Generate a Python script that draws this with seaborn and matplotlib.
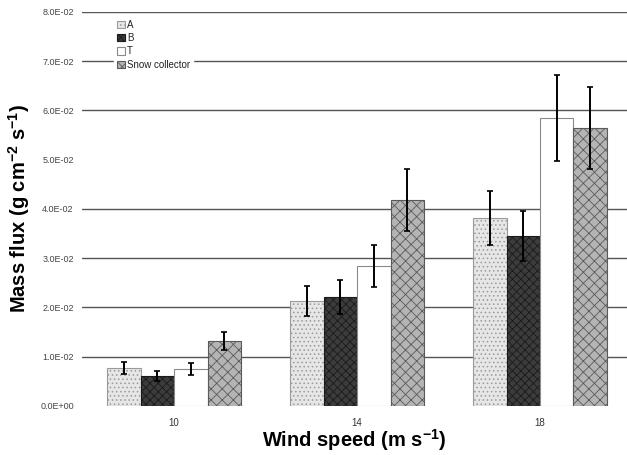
import matplotlib
matplotlib.use("Agg")
import matplotlib.pyplot as plt
import seaborn as sns
import pandas as pd

# data
wind_speeds = ["10", "14", "18"]
sensors = ["A", "B", "T", "Snow collector"]
flux_A = [0.0077, 0.0213, 0.0382]
flux_B = [0.0061, 0.0221, 0.0345]
flux_T = [0.0075, 0.0284, 0.0585]
flux_SC = [0.0132, 0.0418, 0.0564]
err_A = [0.0013, 0.0031, 0.0055]
err_B = [0.0010, 0.0035, 0.0051]
err_T = [0.0012, 0.0043, 0.0087]
err_SC = [0.0018, 0.0063, 0.0084]
grid_levels = [0.01, 0.02, 0.03, 0.04, 0.06, 0.07, 0.08]
y_ticks = [0.0, 0.01, 0.02, 0.03, 0.04, 0.05, 0.06, 0.07, 0.08]

flux = {"A": flux_A, "B": flux_B, "T": flux_T, "Snow collector": flux_SC}
errs = {"A": err_A, "B": err_B, "T": err_T, "Snow collector": err_SC}

rows = []
for s in sensors:
    for w, v in zip(wind_speeds, flux[s]):
        rows.append({"wind": w, "sensor": s, "flux": v})
df = pd.DataFrame(rows)

# bar styles
styles = {
    "A": dict(fc="#e6e6e6", ec="#9a9a9a", hatch="...."),
    "B": dict(fc="#3c3c3c", ec="#1a1a1a", hatch="xxxx"),
    "T": dict(fc="white", ec="#8a8a8a", hatch=""),
    "Snow collector": dict(fc="#b4b4b4", ec="#5a5a5a", hatch="xxx"),
}

sns.set_style("white")
plt.rcParams["font.family"] = ["Liberation Sans", "DejaVu Sans"]
plt.rcParams["mathtext.fontset"] = "custom"
plt.rcParams["mathtext.rm"] = "Liberation Sans"
plt.rcParams["mathtext.bf"] = "Liberation Sans:bold"
plt.rcParams["hatch.linewidth"] = 0.6

fig = plt.figure(figsize=(6.27, 4.55), dpi=100)
ax = fig.add_axes([0.131, 0.108, 0.869, 0.866])

for y in grid_levels:
    ax.axhline(y, color="#555555", lw=1.0, zorder=0)

sns.barplot(data=df, x="wind", y="flux", hue="sensor", order=wind_speeds,
            hue_order=sensors, palette={s: styles[s]["fc"] for s in sensors},
            width=0.73, saturation=1, errorbar=None, legend=False, ax=ax, zorder=2)

for s, cont in zip(sensors, ax.containers):
    st = styles[s]
    for bar in cont.patches:
        bar.set_facecolor(st["fc"])
        bar.set_edgecolor(st["ec"])
        bar.set_hatch(st["hatch"])
        bar.set_linewidth(0.8)
    xs = [b.get_x() + b.get_width() / 2 for b in cont.patches]
    ax.errorbar(xs, flux[s], yerr=errs[s], fmt="none", ecolor="black",
                elinewidth=1.4, capsize=2.5, capthick=1.2, zorder=4)

ax.set_ylim(0, 0.08)
ax.set_xlim(-0.503, 2.475)
ax.set_yticks(y_ticks)
ax.set_yticklabels(["0.0E+00"] + [f"{v:.1E}" for v in y_ticks[1:]])
ax.set_xticks([-0.5, 0.5, 1.5], minor=True)
ax.tick_params(axis="x", which="major", length=0, labelsize=7, pad=9, colors="#333333")
ax.tick_params(axis="x", which="minor", length=3, color="#777777")
ax.tick_params(axis="y", length=4, color="#777777", labelsize=6.5, labelcolor="#444444", pad=2)
for sp in ax.spines.values():
    sp.set_visible(False)

ax.set_xlabel("Wind speed (m s$^{\\mathbf{-1}}$)", fontsize=14.5, fontweight="bold",
              labelpad=-1, color="black")
ax.set_ylabel("Mass flux (g cm$^{\\mathbf{-2}}$ s$^{\\mathbf{-1}}$)", fontsize=14.5,
              fontweight="bold", labelpad=6, color="black")

leg = ax.legend(ax.containers, sensors, loc="upper left", bbox_to_anchor=(0.05, 1.0),
                frameon=True, fontsize=7, handlelength=0.8, handleheight=0.8,
                handletextpad=0.2, labelspacing=0.35, borderpad=0.3)
leg.get_frame().set_facecolor("white")
leg.get_frame().set_edgecolor("white")
leg.get_frame().set_alpha(1)
leg.set_zorder(5)
for t in leg.get_texts():
    t.set_color("#222222")

fig.savefig("out.png", dpi=100)
